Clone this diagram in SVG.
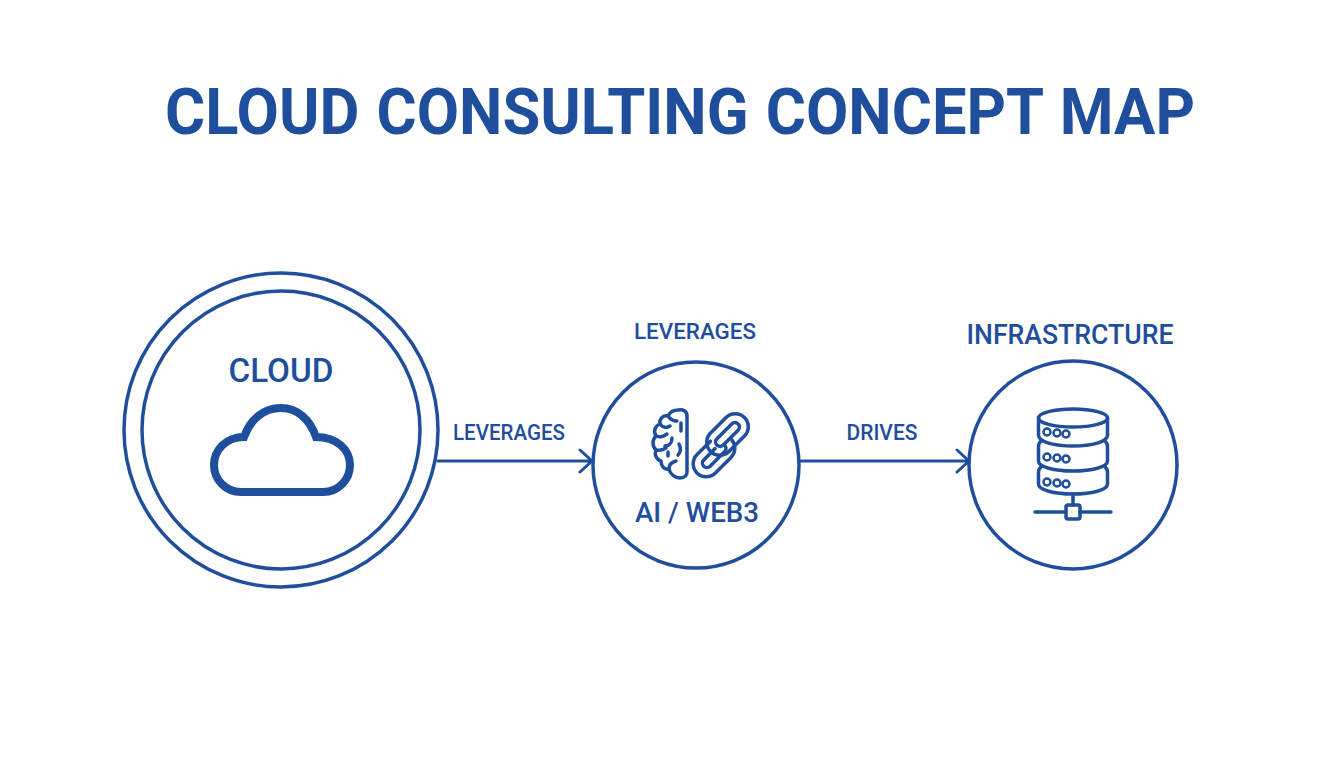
<svg xmlns="http://www.w3.org/2000/svg" width="1344" height="768" viewBox="0 0 1344 768">
<style>
text{font-family:Roboto,"Liberation Sans",sans-serif;fill:#1f4e9c;font-weight:500;text-anchor:middle}
.ring{fill:none;stroke:#1f4e9c;stroke-width:3.5}
.ic{fill:none;stroke:#1f4e9c;stroke-width:3.5;stroke-linecap:round;stroke-linejoin:round}
.arrow{fill:none;stroke:#1f4e9c;stroke-width:3;stroke-linecap:round;stroke-linejoin:round}
.title{font-size:65px;font-weight:700;word-spacing:2px}
.big{font-size:33px}
.lab{font-size:22px}
</style>
<rect width="1344" height="768" fill="#ffffff"/>
<text id="title" class="title" x="680" y="134" textLength="1030" lengthAdjust="spacingAndGlyphs">CLOUD CONSULTING CONCEPT MAP</text>
<g id="connectors">
<path class="arrow" d="M438 461H591M580 450L592 461L580 472"/>
<path class="arrow" d="M801 461H968M957 450L969 461L957 472"/>
<text class="lab" x="509" y="440" textLength="112" lengthAdjust="spacingAndGlyphs">LEVERAGES</text>
<text class="lab" x="882" y="440" textLength="71" lengthAdjust="spacingAndGlyphs">DRIVES</text>
</g>
<g id="node-cloud">
<circle class="ring" cx="281" cy="430" r="157"/>
<circle class="ring" cx="281" cy="430" r="139"/>
<text class="big" x="281" y="382" textLength="105" lengthAdjust="spacingAndGlyphs">CLOUD</text>
<path d="M241 492H323C339 492 350 479 350 465C350 449 336 437 316 437C310 420 298 408 281 408C263 408 250 420 244 437C226 437 214 450 214 465C214 480 226 492 241 492Z" fill="none" stroke="#1f4e9c" stroke-width="8" stroke-linejoin="miter"/>
</g>
<g id="node-ai-web3">
<circle class="ring" cx="696" cy="465" r="103"/>
<text class="lab" x="695" y="339" textLength="122" lengthAdjust="spacingAndGlyphs">LEVERAGES</text>
<text class="big" x="697" y="522" style="font-size:28px" textLength="124" lengthAdjust="spacingAndGlyphs">AI / WEB3</text>
<path class="ic" d="M687 416C687 411 683 409 678 410C673 410 670 412 668 416C663 415 659 419 660 424C655 426 653 431 656 436C652 440 652 446 656 450C654 455 657 460 661 461C661 466 664 470 669 469C670 474 675 478 680 478C685 478 687 475 687 472Z"/>
<path class="ic" d="M668 416C670 419 673 421 677 421M660 424C663 428 667 428 670 426M656 436C661 438 664 436 667 434M672 438C672 443 669 446 665 446M656 450C660 451 663 450 666 448M681 423V431M679 444C681 448 681 452 678 455M669 469C669 464 672 462 676 461M668 452V456"/>
<g transform="translate(727.500 434.500) rotate(-45)"><rect class="ic" x="-24" y="-13" width="48" height="26" rx="13"/><rect class="ic" x="-15" y="-4.500" width="30" height="9" rx="4.500"/></g>
<g transform="translate(714 456) rotate(-45)"><path class="ic" d="M8 -13H-11A13 13 0 0 0 -11 13H11A13 13 0 0 0 24 1"/><path class="ic" d="M6 -4.500H-10A4.500 4.500 0 0 0 -10 4.500H10A4.500 4.500 0 0 0 15 1"/></g>
</g>
<g id="node-infrastructure">
<circle class="ring" cx="1073" cy="465" r="104"/>
<text class="big" x="1070" y="344" style="font-size:27px" textLength="207" lengthAdjust="spacingAndGlyphs">INFRASTRCTURE</text>
<ellipse class="ic" cx="1073" cy="418" rx="34.500" ry="9"/>
<path class="ic" d="M1038.500 418V435C1038.500 442 1054 446 1073 446C1092 446 1107.500 442 1107.500 435V418"/>
<path class="ic" d="M1041 441C1038.500 443 1038.500 445 1038.500 447V461C1038.500 467 1054 471 1073 471C1092 471 1107.500 467 1107.500 461V447C1107.500 445 1107.500 443 1105 441"/>
<path class="ic" d="M1041 467C1038.500 469 1038.500 470 1038.500 472V484C1038.500 490 1054 494 1073 494C1092 494 1107.500 490 1107.500 484V472C1107.500 470 1107.500 469 1105 467"/>
<g fill="none" stroke="#1f4e9c" stroke-width="2.500">
<circle cx="1047" cy="432" r="3.500"/><circle cx="1057" cy="433" r="3.500"/><circle cx="1066" cy="434" r="3.500"/>
<circle cx="1047" cy="457" r="3.500"/><circle cx="1057" cy="458" r="3.500"/><circle cx="1066" cy="459" r="3.500"/>
<circle cx="1047" cy="482" r="3.500"/><circle cx="1057" cy="483" r="3.500"/><circle cx="1066" cy="484" r="3.500"/>
</g>
<path class="ic" d="M1073 494V505M1035 512H1066M1080 512H1111"/>
<rect class="ic" x="1066" y="505" width="14" height="14" rx="2"/>
</g>
</svg>
